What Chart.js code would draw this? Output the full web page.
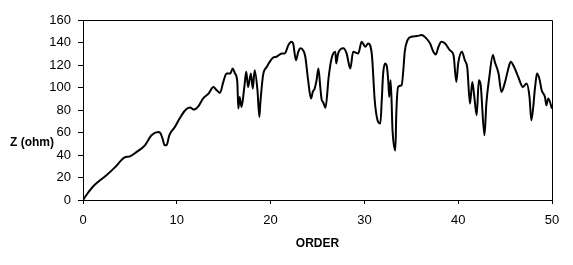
<!DOCTYPE html>
<html>
<head>
<meta charset="utf-8">
<script src="https://cdn.jsdelivr.net/npm/chart.js@4/dist/chart.umd.min.js"></script>
<style>
html,body{margin:0;padding:0;background:#fff;}
#wrap{width:573px;height:265px;position:relative;}
</style>
</head>
<body>
<div id="wrap"><canvas id="c" width="573" height="265"></canvas></div>
<script>
const orderValues = [0,0.5,1.07,1.6,2.5,3.4,4.4,5.0,5.7,6.6,7.3,8.0,8.25,8.5,8.7,8.9,9.2,9.8,10.3,10.9,11.4,11.8,12.3,12.8,13.4,13.9,14.25,14.6,14.96,15.3,15.7,15.96,16.2,16.45,16.56,16.7,16.9,17.2,17.4,17.6,17.9,18.1,18.3,18.6,18.8,18.9,19.2,19.6,19.9,20.3,20.6,21.2,21.5,21.9,22.2,22.4,22.7,22.95,23.2,23.5,23.7,24.0,24.3,24.5,24.7,24.9,25.1,25.3,25.45,25.6,25.85,26.2,26.5,26.9,27.0,27.2,27.75,28.1,28.5,28.8,29.35,29.7,30.1,30.4,30.8,31.1,31.4,31.7,31.85,32.0,32.2,32.4,32.55,32.65,32.8,33.0,33.3,33.4,33.6,33.97,34.15,34.3,34.6,35.0,35.6,36.1,36.6,37.0,37.35,37.6,37.9,38.2,38.6,39.1,39.5,39.8,40.0,40.4,40.7,40.97,41.26,41.5,41.7,41.97,42.2,42.4,42.8,43.0,43.3,43.7,43.9,44.3,44.6,45.0,45.3,45.6,45.95,46.4,46.9,47.3,47.6,47.8,48.2,48.4,48.65,48.9,49.25,49.4,49.6,50];
const zValues = [0,6,12,16,22,29,37.6,38.8,42.6,48.6,57.5,60.4,59.5,54,48.6,48.6,57.5,65,72.4,79.8,82.2,80.4,83.3,90.2,94.7,100.5,97.6,95.2,105,112.5,112.5,116.9,112.5,105,81.3,91.6,82.7,100.5,113.9,100.5,112.5,99,115.4,97.6,73.8,85.7,111,118.4,122.8,126.7,127.3,130.3,130.3,137.7,140.6,139.2,124.3,131.7,134.8,132.6,127.3,106.5,90.2,96.1,99.1,106.5,116.9,100,89,87,82,110,125.8,131.7,121.4,130.3,134.8,130.3,116.9,131.7,130.3,140.6,136.2,139.2,128.8,88.7,70.9,67.9,88.7,112.5,121.4,118.4,105,91.6,106.5,61.9,44.1,76.8,100.5,102,115.4,131.7,142.2,145.1,145.7,146.6,143.7,139.2,131.7,129.4,136.2,140.6,139.2,133.2,128.8,105,121.4,131.7,124.3,117.5,85.7,105,93.1,75.3,106.5,102,57.5,85.7,108,128.8,122.8,112.5,96.1,105,115.4,122.8,118.4,109.4,100.5,103.6,91.6,70.9,100.5,112.5,108,97.6,91.6,84.2,90.2,81.3];
const xTitle = 'ORDER';
const yTitle = 'Z (ohm)';

const points = orderValues.map((x, i) => ({x: x, y: zValues[i]}));

const frameAndTitles = {
  id: 'frameAndTitles',
  afterDraw(chart) {
    const ctx = chart.ctx, a = chart.chartArea;
    ctx.save();
    ctx.strokeStyle = '#000';
    ctx.lineWidth = 1;
    ctx.beginPath();
    ctx.moveTo(Math.round(a.left) + 0.5, Math.round(a.top) + 0.5);
    ctx.lineTo(Math.round(a.right) + 0.5, Math.round(a.top) + 0.5);
    ctx.lineTo(Math.round(a.right) + 0.5, Math.round(a.bottom) + 0.5);
    ctx.stroke();
    ctx.fillStyle = '#000';
    ctx.font = 'bold 12px "Liberation Sans", Arial, sans-serif';
    ctx.textAlign = 'center';
    ctx.textBaseline = 'middle';
    ctx.fillText(xTitle, (a.left + a.right) / 2, 244);
    ctx.textAlign = 'left';
    ctx.fillText(yTitle, 10, 143);
    ctx.restore();
  }
};

new Chart(document.getElementById('c'), {
  type: 'line',
  data: {
    datasets: [{
      data: points,
      borderColor: '#000',
      borderWidth: 2,
      pointRadius: 0,
      fill: false,
      tension: 0.3,
      cubicInterpolationMode: 'monotone'
    }]
  },
  options: {
    responsive: false,
    animation: false,
    layout: {padding: {top: 20, right: 21, left: 0, bottom: 0}},
    plugins: {legend: {display: false}, tooltip: {enabled: false}},
    scales: {
      x: {
        type: 'linear',
        min: 0, max: 50,
        ticks: {stepSize: 10, color: '#000', padding: 9, font: {family: '"Liberation Sans", Arial, sans-serif', size: 13}},
        grid: {drawOnChartArea: false, drawTicks: true, tickLength: 4, color: '#000'},
        border: {display: true, color: '#000', width: 1},
        afterFit(s) { s.height = 65; }
      },
      y: {
        min: 0, max: 160,
        ticks: {stepSize: 20, color: '#000', padding: 7, font: {family: '"Liberation Sans", Arial, sans-serif', size: 13}},
        grid: {drawOnChartArea: false, drawTicks: true, tickLength: 5, color: '#000'},
        border: {display: true, color: '#000', width: 1},
        afterFit(s) { s.width = 83; }
      }
    }
  },
  plugins: [frameAndTitles]
});
</script>
</body>
</html>
